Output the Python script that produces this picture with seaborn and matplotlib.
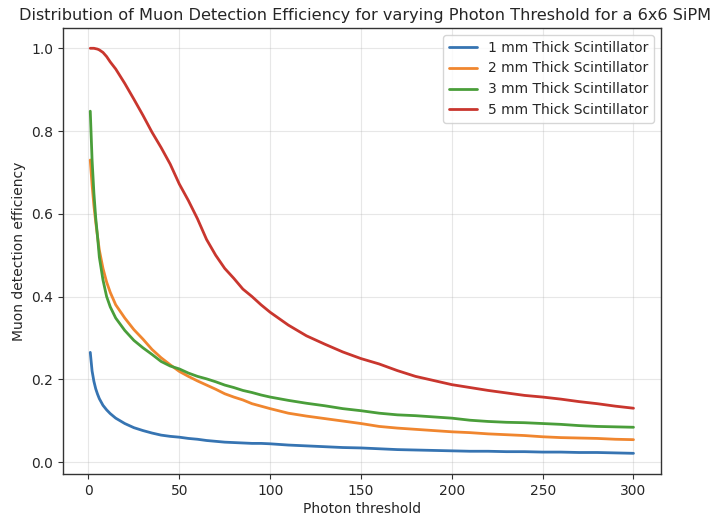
import numpy as np
import pandas as pd
import matplotlib
matplotlib.use("Agg")
import matplotlib.pyplot as plt
import seaborn as sns

# Photon thresholds at which the efficiency was sampled
threshold = [1, 2, 3, 4, 5, 6, 8, 10, 12, 15, 20, 25, 30, 35, 40, 45, 50,
             55, 60, 65, 70, 75, 80, 85, 90, 95, 100, 110, 120, 130, 140, 150,
             160, 170, 180, 190, 200, 210, 220, 230, 240, 250, 260, 270, 280,
             290, 300]

eff_1mm = [0.265, 0.22, 0.195, 0.177, 0.164, 0.153, 0.137, 0.126, 0.117, 0.106,
           0.093, 0.083, 0.076, 0.070, 0.065, 0.062, 0.060, 0.057, 0.055, 0.052,
           0.050, 0.048, 0.047, 0.046, 0.045, 0.045, 0.044, 0.041, 0.039, 0.037,
           0.035, 0.034, 0.032, 0.030, 0.029, 0.028, 0.027, 0.026, 0.026, 0.025,
           0.025, 0.024, 0.024, 0.023, 0.023, 0.022, 0.021]

eff_2mm = [0.73, 0.67, 0.62, 0.58, 0.545, 0.512, 0.468, 0.435, 0.41, 0.38,
           0.348, 0.32, 0.297, 0.272, 0.252, 0.235, 0.219, 0.207, 0.196, 0.186,
           0.176, 0.165, 0.157, 0.150, 0.141, 0.135, 0.129, 0.118, 0.111, 0.105,
           0.099, 0.093, 0.086, 0.082, 0.079, 0.076, 0.073, 0.071, 0.068, 0.066,
           0.064, 0.061, 0.059, 0.058, 0.057, 0.055, 0.054]

eff_3mm = [0.848, 0.73, 0.65, 0.59, 0.545, 0.495, 0.44, 0.40, 0.375, 0.348,
           0.318, 0.294, 0.276, 0.260, 0.243, 0.232, 0.225, 0.215, 0.207, 0.201,
           0.194, 0.186, 0.180, 0.173, 0.168, 0.162, 0.157, 0.149, 0.142, 0.136,
           0.129, 0.124, 0.118, 0.114, 0.112, 0.109, 0.106, 0.101, 0.098, 0.096,
           0.095, 0.093, 0.091, 0.088, 0.086, 0.085, 0.084]

eff_5mm = [1.0, 1.0, 1.0, 0.999, 0.998, 0.996, 0.99, 0.98, 0.967, 0.95,
           0.915, 0.877, 0.838, 0.797, 0.76, 0.72, 0.672, 0.632, 0.588, 0.538,
           0.50, 0.468, 0.444, 0.418, 0.400, 0.380, 0.362, 0.331, 0.305, 0.285,
           0.266, 0.250, 0.237, 0.221, 0.207, 0.197, 0.187, 0.180, 0.173, 0.167,
           0.161, 0.157, 0.152, 0.146, 0.141, 0.135, 0.130]

series_names = ["1 mm Thick Scintillator", "2 mm Thick Scintillator",
                "3 mm Thick Scintillator", "5 mm Thick Scintillator"]
series_colors = ["#3674b2", "#f0862f", "#4a9e3a", "#c9362e"]

frames = []
for name, values in zip(series_names, [eff_1mm, eff_2mm, eff_3mm, eff_5mm]):
    frames.append(pd.DataFrame({"threshold": threshold,
                                "efficiency": values,
                                "series": name}))
df = pd.concat(frames, ignore_index=True)

sns.set_style("ticks")
plt.rcParams["font.family"] = ["DejaVu Sans"]

fig = plt.figure(figsize=(7.12, 5.15), dpi=100)
ax = fig.add_axes([0.0885, 0.0796, 0.8395, 0.866])

sns.lineplot(data=df, x="threshold", y="efficiency", hue="series",
             hue_order=series_names, palette=series_colors, linewidth=2, ax=ax)

ax.set_xlim(-14, 315)
ax.set_ylim(-0.029, 1.049)
ax.set_xticks([0, 50, 100, 150, 200, 250, 300])
ax.set_yticks([0.0, 0.2, 0.4, 0.6, 0.8, 1.0])
ax.grid(True, color="#b0b0b0", alpha=0.3, linewidth=0.8)
ax.tick_params(labelsize=10, direction="out", length=3.5, width=0.8, color="#333333")
for spine in ax.spines.values():
    spine.set_visible(True)
    spine.set_color("#333333")
    spine.set_linewidth(1.0)

ax.set_xlabel("Photon threshold", fontsize=10, labelpad=3)
ax.set_ylabel("Muon detection efficiency", fontsize=10)
ax.set_title("Distribution of Muon Detection Efficiency for varying Photon Threshold for a 6x6 SiPM",
             fontsize=11.6, x=0.505)
ax.legend(loc="upper right", fontsize=10, frameon=True, title=None)

fig.savefig("out.png", dpi=100)
